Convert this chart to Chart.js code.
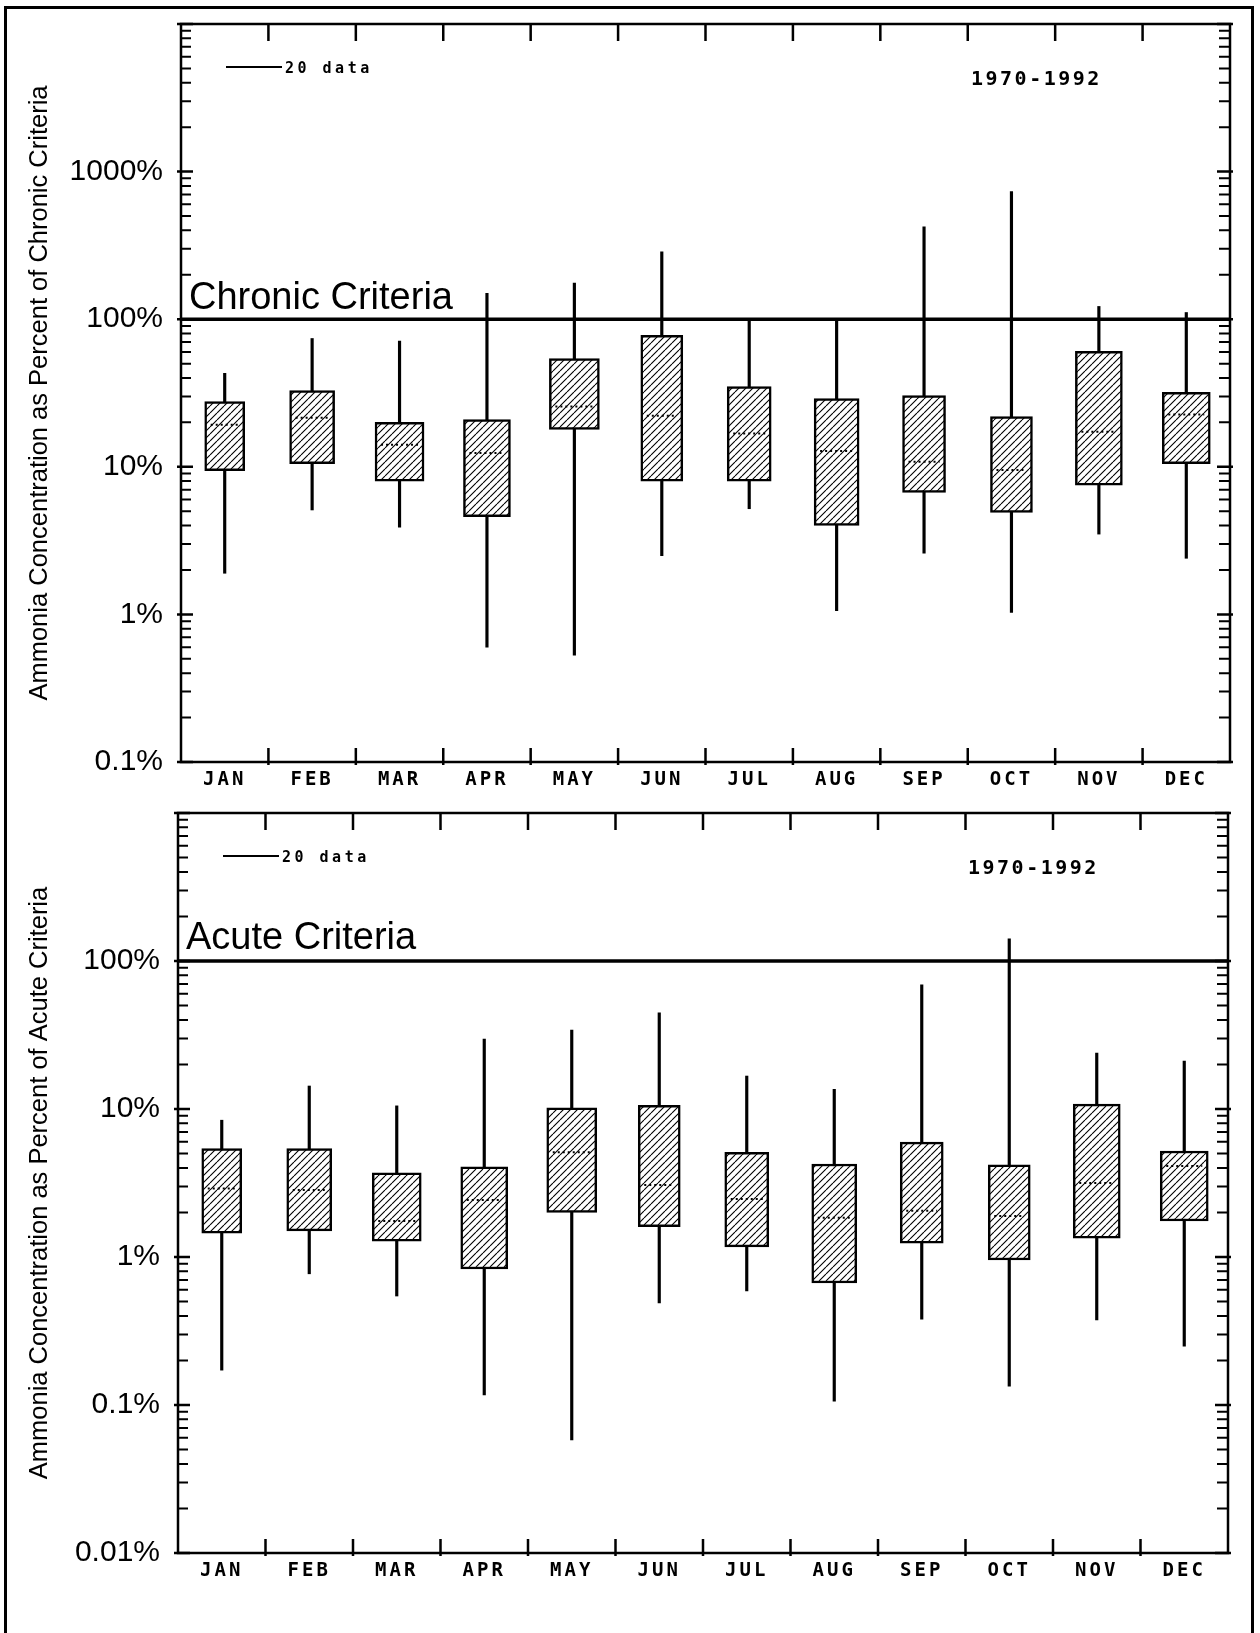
<!DOCTYPE html>
<html>
<head>
<meta charset="utf-8">
<script src="https://cdn.jsdelivr.net/npm/chart.js@4/dist/chart.umd.min.js"></script>
<style>
html,body{margin:0;padding:0;background:#fff;}
body{width:1260px;height:1633px;position:relative;overflow:hidden;}
#frame{position:absolute;left:4px;top:6px;width:1250px;height:1700px;border:3px solid #000;border-bottom:none;box-sizing:border-box;}
canvas{position:absolute;left:0;}
#c1{top:-14px;}
#c2{top:770px;}
</style>
</head>
<body>
<div id="frame"></div>
<canvas id="c1" width="1260" height="820"></canvas>
<canvas id="c2" width="1260" height="863"></canvas>
<script>
// ---------------- DATA ----------------
const months = ['JAN','FEB','MAR','APR','MAY','JUN','JUL','AUG','SEP','OCT','NOV','DEC'];

// Chronic criteria (% of chronic criteria)
const chronicMin = [1.9, 5.1, 3.9, 0.60, 0.53, 2.5, 5.2, 1.06, 2.6, 1.03, 3.5, 2.4];
const chronicQ1  = [9.4, 10.5, 8.0, 4.6, 17.9, 8.0, 8.0, 4.0, 6.7, 4.9, 7.5, 10.5];
const chronicMed = [19.3, 21.5, 14.1, 12.4, 25.6, 22.2, 16.8, 12.8, 10.8, 9.5, 17.3, 22.6];
const chronicQ3  = [27.7, 32.9, 20.0, 20.9, 54, 77.8, 35, 29, 30.4, 21.9, 60.5, 31.9];
const chronicMax = [43, 74, 71, 150, 176, 286, 100, 100, 423, 731, 122, 111];

// Acute criteria (% of acute criteria)
const acuteMin = [0.172, 0.77, 0.545, 0.117, 0.058, 0.49, 0.59, 0.106, 0.38, 0.134, 0.375, 0.25];
const acuteQ1  = [1.45, 1.5, 1.28, 0.83, 2.0, 1.6, 1.17, 0.667, 1.24, 0.955, 1.34, 1.75];
const acuteMed = [2.9, 2.84, 1.75, 2.43, 5.1, 3.06, 2.47, 1.84, 2.05, 1.89, 3.16, 4.12];
const acuteQ3  = [5.4, 5.4, 3.7, 4.06, 10.2, 10.6, 5.1, 4.25, 5.98, 4.19, 10.8, 5.2];
const acuteMax = [8.4, 14.3, 10.5, 29.7, 34.2, 44.6, 16.7, 13.6, 68.9, 141, 23.9, 21.1];

// Tick labels
const chronicTickValues = [0.1, 1, 10, 100, 1000];
const chronicTickLabels = ['0.1%', '1%', '10%', '100%', '1000%'];
const acuteTickValues = [0.01, 0.1, 1, 10, 100];
const acuteTickLabels = ['0.01%', '0.1%', '1%', '10%', '100%'];

const criteriaLevel = 100;
const periodLabel = '1970-1992';
const legendLabel = '20 data';

// ---------------- STYLE ----------------
const boxWidthsPx = [40, 45, 49, 47, 50, 42, 44, 45, 43, 42, 47, 48];
const AXIS_FONT = 'Liberation Sans, Arial, sans-serif';
const PLOT_FONT = 'DejaVu Sans Mono, monospace';

function makeHatch() {
  const s = 7;
  const c = document.createElement('canvas');
  c.width = s; c.height = s;
  const g = c.getContext('2d');
  g.fillStyle = '#fff';
  g.fillRect(0, 0, s, s);
  g.strokeStyle = '#000';
  g.lineWidth = 1.1;
  g.beginPath();
  for (const k of [-1, 0, 1]) {
    g.moveTo(k * s, s);
    g.lineTo(k * s + s, 0);
  }
  g.stroke();
  return g.createPattern(c, 'repeat');
}
const hatch = makeHatch();

const deco = {
  id: 'deco',
  afterDatasetsUpdate(chart) {
    const idx = chart.data.datasets.findIndex(ds => ds.label === 'box');
    const meta = chart.getDatasetMeta(idx);
    meta.data.forEach((el, i) => { el.width = boxWidthsPx[i]; });
  },
  beforeDraw(chart) {
    const sx = chart.scales.x;
    if (!sx._lsWrapped) {
      const orig = sx.drawLabels.bind(sx);
      sx.drawLabels = function (area) {
        const c = this.ctx;
        c.save();
        c.letterSpacing = '3px';
        orig(area);
        c.letterSpacing = '0px';
        c.restore();
      };
      sx._lsWrapped = true;
    }
  },
  afterDraw(chart, args, opts) {
    const { ctx, chartArea: a, scales: { x, y } } = chart;
    ctx.save();
    ctx.strokeStyle = '#000';
    ctx.fillStyle = '#000';
    // frame
    ctx.lineWidth = 2.5;
    ctx.strokeRect(a.left, a.top, a.right - a.left, a.bottom - a.top);
    // y ticks (log decades with minor ticks)
    const lo = Math.round(Math.log10(y.min));
    const hi = Math.round(Math.log10(y.max));
    for (let e = lo; e <= hi; e++) {
      for (let k = 1; k <= 9; k++) {
        const v = k * Math.pow(10, e);
        if (v > y.max * 1.0001) break;
        const py = y.getPixelForValue(v);
        if (k === 1) {
          ctx.lineWidth = 2.5;
          ctx.beginPath();
          ctx.moveTo(a.left - 4, py); ctx.lineTo(a.left + 12, py);
          ctx.moveTo(a.right - 13, py); ctx.lineTo(a.right + 3, py);
          ctx.stroke();
        } else {
          ctx.lineWidth = 2;
          ctx.beginPath();
          ctx.moveTo(a.left, py); ctx.lineTo(a.left + 10, py);
          ctx.moveTo(a.right - 11, py); ctx.lineTo(a.right, py);
          ctx.stroke();
        }
      }
    }
    // x boundary ticks
    ctx.lineWidth = 2.5;
    for (let i = 1; i < months.length; i++) {
      const px = (x.getPixelForValue(i - 1) + x.getPixelForValue(i)) / 2;
      ctx.beginPath();
      ctx.moveTo(px, a.top); ctx.lineTo(px, a.top + 17);
      ctx.moveTo(px, a.bottom - 14); ctx.lineTo(px, a.bottom + 3);
      ctx.stroke();
    }
    // legend line + label
    ctx.lineWidth = 2;
    ctx.beginPath();
    ctx.moveTo(a.left + 45, a.top + 43);
    ctx.lineTo(a.left + 101, a.top + 43);
    ctx.stroke();
    ctx.font = 'bold 15px ' + PLOT_FONT;
    ctx.letterSpacing = '3.5px';
    ctx.textBaseline = 'alphabetic';
    ctx.textAlign = 'left';
    ctx.fillText(legendLabel, a.left + 104, a.top + 49);
    // period label
    ctx.font = 'bold 20px ' + PLOT_FONT;
    ctx.letterSpacing = '2.5px';
    ctx.fillText(periodLabel, a.left + 790, a.top + 61);
    ctx.letterSpacing = '0px';
    // criteria label
    ctx.font = '38px ' + AXIS_FONT;
    ctx.fillText(opts.criteriaText, a.left + 8, y.getPixelForValue(criteriaLevel) - opts.labelGap);
    ctx.restore();
  }
};

function makeChart(id, H, area, d) {
  const canvas = document.getElementById(id);
  const catW = (area.right - area.left) / months.length;
  const medPts = [];
  months.forEach((m, i) => {
    const h = (boxWidthsPx[i] / 2 - 6) / catW;
    medPts.push({ x: i - h, y: d.med[i] }, { x: i + h, y: d.med[i] }, { x: i + 0.5, y: null });
  });
  return new Chart(canvas, {
    type: 'bar',
    data: {
      labels: months,
      datasets: [
        { type: 'line', label: 'criteria', data: [{ x: -0.5, y: criteriaLevel }, { x: 11.5, y: criteriaLevel }],
          xAxisID: 'x2', borderColor: '#000', borderWidth: 3.5, pointRadius: 0, order: 0 },
        { type: 'line', label: 'median', data: medPts, xAxisID: 'x2', borderColor: '#000', borderWidth: 2,
          borderDash: [2, 3], pointRadius: 0, spanGaps: false, order: 1 },
        { type: 'bar', label: 'box', data: months.map((m, i) => [d.q1[i], d.q3[i]]), backgroundColor: hatch,
          borderColor: '#000', borderWidth: 2.5, borderSkipped: false, barThickness: 45, grouped: false, order: 2 },
        { type: 'bar', label: 'whisker', data: months.map((m, i) => [d.min[i], d.max[i]]), backgroundColor: '#000',
          borderWidth: 0, barThickness: 2.5, grouped: false, order: 3 }
      ]
    },
    options: {
      responsive: false,
      animation: false,
      events: [],
      layout: { padding: { left: 0, top: area.top, right: 1260 - area.right, bottom: 0 } },
      plugins: { legend: { display: false }, tooltip: { enabled: false },
                 deco: { criteriaText: d.criteriaText, labelGap: d.labelGap } },
      scales: {
        x: {
          type: 'category', offset: true,
          grid: { display: false, drawTicks: false }, border: { display: false },
          ticks: { font: { family: PLOT_FONT, weight: 'bold', size: 19 }, color: '#000', padding: 7, maxRotation: 0, autoSkip: false },
          afterFit(s) { s.height = H - area.bottom; }
        },
        x2: { type: 'linear', display: false, offset: false, min: -0.5, max: 11.5, grid: { offset: false } },
        y: {
          type: 'logarithmic', min: d.yMin, max: d.yMax,
          grid: { display: false, drawTicks: false }, border: { display: false },
          afterBuildTicks(s) { s.ticks = d.tickValues.map(v => ({ value: v })); },
          ticks: { autoSkip: false, color: '#000', padding: 18, font: { family: AXIS_FONT, size: 30 },
                   callback: (v, i) => d.tickLabels[i] },
          title: { display: true, text: d.title, color: '#000', font: { family: AXIS_FONT, size: 25.5 }, padding: { top: 25, bottom: 0 } },
          afterFit(s) { s.width = area.left; }
        }
      }
    },
    plugins: [deco]
  });
}

makeChart('c1', 820, { left: 181, right: 1230, top: 38, bottom: 776 }, {
  min: chronicMin, q1: chronicQ1, med: chronicMed, q3: chronicQ3, max: chronicMax,
  yMin: 0.1, yMax: 10000, tickValues: chronicTickValues, tickLabels: chronicTickLabels,
  title: 'Ammonia Concentration as Percent of Chronic Criteria', criteriaText: 'Chronic Criteria', labelGap: 10
});
makeChart('c2', 863, { left: 178, right: 1228, top: 43, bottom: 783 }, {
  min: acuteMin, q1: acuteQ1, med: acuteMed, q3: acuteQ3, max: acuteMax,
  yMin: 0.01, yMax: 1000, tickValues: acuteTickValues, tickLabels: acuteTickLabels,
  title: 'Ammonia Concentration as Percent of Acute Criteria', criteriaText: 'Acute Criteria', labelGap: 12
});
</script>
</body>
</html>
